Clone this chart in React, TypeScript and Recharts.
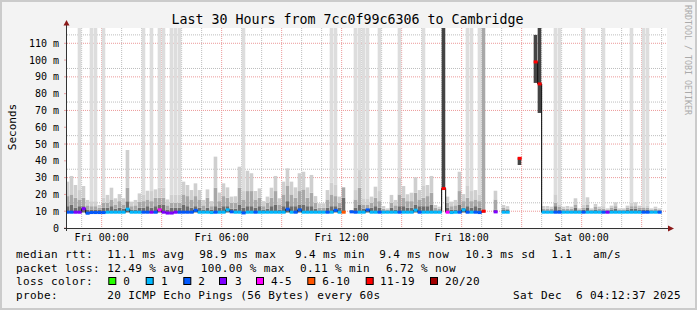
import React from 'react';
import {
  ComposedChart,
  Bar,
  Line,
  Scatter,
  XAxis,
  YAxis,
  CartesianGrid,
  Cell,
} from 'recharts';

// one column = 12 minutes, column 0 starts at Fri 00:00 (x values are hours from Fri 00:00)
const FIRST_COL = -9;
const STEP_H = 0.2;
const X_DOMAIN: [number, number] = [-1.7333, 28.2667];
const Y_MAX = 119.1;

// smoke: min ping, top of dark band, top of mid band, top of light band (ms)
const LO = [
  9.2, 9.2, 9.2, 9.2, 9.2, 9.2, 9.2, 9.2, 9.2,
  9.2, 9.2, 9.2, 9.2, 9.2, 9.2, 9.2, 9.2, 9.2, 9.2,
  9.2, 9.2, 9.2, 9.2, 9.2, 9.2, 9.2, 9.2, 9.2, 9.2,
  9.2, 9.2, 9.2, 9.2, 9.2, 9.2, 9.2, 9.2, 9.2, 9.2,
  9.2, 9.2, 9.2, 9.2, 9.2, 9.2, 9.2, 9.2, 9.2, 9.2,
  9.2, 9.2, 9.2, 9.2, 9.2, 9.2, 9.2, 9.2, 9.2, 9.2,
  9.2, 9.2, 9.2, 9.2, 9.2, 9.2, 9.2, 9.2, 9.2, 9.2,
  9.2, null, 9.2, 9.2, 9.2, 9.2, 9.2, 9.2, 9.2, 9.2,
  9.2, 9.2, 9.2, 9.2, 9.2, 9.2, 9.2, 9.2, 9.2, 9.2,
  9.2, 9.2, 9.2, 9.2, 9.2, 23.5, 9.2, 9.2, 9.2, 9.2,
  9.2, 9.2, 9.2, 9.2, 9.2, 9.2, null, null, 9.2, null,
  9.2, 9.2, null, null, 37.5, null, null, null, 86.4, 68.5,
  9.2, 9.2, 9.2, 9.2, 9.2, 9.2, 9.2, 9.2, 9.2, 9.2,
  9.2, 9.2, 9.2, 9.2, 9.2, 9.2, 9.2, 9.2, 9.2, 9.2,
  9.2, 9.2, 9.2, 9.2, 9.2, 9.2, 9.2, 9.2, 9.2, 9.2,
];

const DK = [
  13, 14, 12, 13, 13, 11, 11, 11, 11,
  12, 12, 13, 11.5, 12, 11.5, 16, 11, 11, 12,
  12, 13, 12, 13, 14, 14, 11, 12, 12, 12,
  14, 13, 12, 13, 12, 11, 12, 11, 13, 12,
  13, 13, 11.5, 11.5, 14, 12, 13, 13, 12, 13,
  11, 11.5, 13, 14, 11, 13, 16, 13, 13, 14,
  14, 13, 13, 11.5, 10.5, 10.5, 12, 13, 13, 12,
  18, null, 10.5, 12, 14, 11.5, 11.5, 12, 13, 12,
  10.5, 10.5, 12, 11, 13, 13, 12, 12, 14, 13,
  13, 13, 14, 10.5, 10.5, 125, 12, 11, 11, 14,
  12, 13, 12, 13, 12, 9.8, null, null, 11, null,
  11, 11, null, null, 42, null, null, null, 115, 125,
  10.5, 10.5, 10.5, 13, 11, 10.5, 10.5, 10.5, 12, 10.5,
  11, 12, 10.5, 11, 10.5, 10.5, 10.5, 11, 11.5, 10.5,
  10.5, 11, 11.5, 11.5, 11, 11, 11, 10.5, 10.5, 10.5,
];

const MID = [
  19, 20, 18, 17, 18, 13.5, 13, 13, 12,
  15, 15, 17, 14, 16, 14, 24, 13, 13.5, 15.5,
  16, 17, 16, 18, 18, 18, 13.5, 15, 15, 15,
  20, 19, 17, 19, 17, 13.5, 18, 13, 24, 16,
  19, 18, 15, 15, 24, 17, 22, 22, 17, 18,
  13, 15, 18, 22, 14, 20, 25, 20, 18, 22,
  23, 18, 21, 15, 12, 12, 17, 20, 19, 15,
  24.2, null, 10.7, 17, 24, 14, 14, 15, 18, 16,
  11.5, 11, 15, 13.5, 20, 18, 16, 16, 21, 17,
  18, 19, 21, 12, 11.5, 125, 15, 13, 13.5, 22,
  16, 18, 16, 17, 16, 125, null, null, 17, null,
  12, 11.5, null, null, 42, null, null, null, 115, 125,
  11.5, 11.5, 11.5, 15, 12.5, 11.5, 11.5, 11.5, 14, 11,
  12, 14, 11, 12.5, 11.5, 11.5, 11, 12, 13, 11,
  11, 12, 13, 13, 12, 12, 12, 11, 11.5, 11,
];

const HI = [
  27.6, 31, 25.6, 22.6, 25, 16.7, 16, 16, 13.7,
  18, 19.7, 24, 17.7, 20.2, 17.7, 46.5, 15.7, 16.7, 20.6,
  20, 22.2, 22, 23, 24, 24, 17, 20, 20, 20,
  27.6, 25.6, 22.6, 26.6, 22.6, 16.7, 23, 16, 42.5, 21.1,
  26.6, 24.2, 18.7, 18.9, 36.5, 22, 34.1, 32.6, 22, 23.6,
  16, 18.7, 24, 31, 17.7, 27.6, 35.5, 27.6, 24.2, 32.6,
  33.5, 24.2, 31.6, 19, 14.7, 14.7, 22.6, 27, 26, 18.7,
  24.2, null, 10.7, 22.6, 34.5, 17.7, 17.7, 18.7, 24.6, 22,
  13.1, 11.7, 19.7, 16.7, 30, 25, 20.1, 21, 30.2, 22.6,
  25, 25.6, 31, 13.7, 12.7, 125, 18.7, 15.7, 16.7, 33.5,
  20.2, 25, 22, 22.6, 20, 125, null, null, 22.2, null,
  13.7, 13, null, null, 42, null, null, null, 115, 125,
  13.1, 13.1, 12.7, 20.1, 14.1, 12.7, 13.1, 12.7, 17.7, 11.7,
  13.9, 18.3, 11.7, 14.3, 12.7, 13, 11.7, 13.3, 15.3, 11.7,
  11.7, 13.3, 15, 15.3, 13.3, 13, 13.5, 11.7, 12.7, 11.7,
];

// 1 = some pings went off the top of the graph
const TALL = [
  0, 0, 0, 1, 0, 0, 1, 1, 0,
  1, 0, 0, 0, 0, 0, 0, 0, 0, 0,
  1, 0, 1, 0, 1, 1, 0, 1, 1, 1,
  0, 0, 0, 0, 0, 0, 0, 0, 0, 0,
  0, 0, 0, 0, 0, 1, 0, 0, 0, 0,
  0, 0, 0, 0, 0, 0, 0, 0, 0, 0,
  0, 0, 0, 0, 0, 0, 0, 1, 1, 0,
  0, 0, 0, 1, 1, 1, 1, 0, 0, 1,
  0, 0, 0, 0, 1, 0, 0, 0, 0, 0,
  1, 0, 0, 0, 0, 0, 0, 0, 0, 0,
  0, 1, 1, 0, 1, 0, 0, 0, 0, 0,
  0, 0, 0, 0, 0, 0, 0, 0, 0, 0,
  0, 0, 0, 1, 1, 0, 0, 0, 0, 0,
  1, 0, 0, 0, 0, 1, 0, 0, 0, 0,
  0, 0, 1, 0, 0, 1, 1, 0, 0, 0,
];

const MED = [
  9.4, 9.4, 9.4, 9.4, 11.5, 8.8, 9.2, 9.2, 9.2,
  9.2, 9.4, 9.4, 9.4, 9.4, 9.4, 11.2, 9.4, 9.4, 9.4,
  9.4, 9.4, 9.4, 9.4, 10.8, 9.4, 8.9, 8.9, 9.4, 9.4,
  9.4, 9.4, 9.4, 10.5, 9.4, 9.4, 9.4, 9.2, 9.4, 9.4,
  9.4, 10.8, 9.6, 9.4, 9.4, 9.0, 9.4, 9.4, 9.4, 9.4,
  9.4, 9.4, 9.4, 9.4, 9.4, 9.4, 11.2, 9.4, 9.4, 10.8,
  9.4, 9.4, 9.4, 9.4, 9.4, 9.4, 9.4, 9.4, 10.5, 9.4,
  9.4, null, 9.6, 9.4, 9.4, 9.4, 10.8, 9.4, 9.4, 9.4,
  9.4, 9.4, 9.4, 9.4, 9.4, 9.4, 9.4, 9.4, 10.6, 9.4,
  9.4, 9.4, 9.4, 9.4, 9.4, 23.5, 9.4, 9.2, 9.4, 9.4,
  10.8, 9.4, 9.4, 9.4, 9.2, 10, null, null, 9.6, null,
  9.4, 9.4, null, null, 41.5, null, null, null, 98.9, 85.8,
  9.4, 9.4, 9.4, 9.4, 9.4, 9.4, 9.4, 9.4, 9.4, 9.4,
  9.4, 9.4, 9.4, 9.4, 9.4, 9.4, 9.4, 9.4, 9.4, 9.4,
  9.4, 9.4, 9.4, 9.4, 9.4, 9.4, 9.4, 9.4, 9.4, 9.4,
];

// index into LOSS_COLORS
const LOSS = [
  2, 2, 3, 3, 3, 2, 2, 2, 2,
  2, 1, 1, 1, 1, 1, 1, 1, 1, 1,
  2, 2, 3, 2, 4, 3, 3, 3, 3, 2,
  2, 2, 2, 2, 1, 1, 1, 1, 2, 1,
  1, 1, 2, 1, 1, 2, 1, 1, 2, 1,
  1, 1, 1, 1, 1, 1, 2, 1, 2, 2,
  1, 1, 1, 1, 1, 1, 2, 1, 2, 1,
  5, null, 2, 2, 1, 1, 2, 1, 1, 2,
  1, 1, 1, 1, 2, 1, 1, 1, 1, 2,
  1, 1, 1, 1, 1, 6, 4, 1, 1, 2,
  1, 2, 1, 2, 2, 6, null, null, 3, null,
  1, 1, null, null, 6, null, null, null, 6, 6,
  1, 1, 1, 2, 2, 1, 1, 1, 1, 1,
  2, 1, 1, 1, 1, 2, 3, 1, 1, 1,
  1, 1, 1, 1, 1, 2, 2, 1, 1, 2,
];

const LOSS_COLORS = ['#26ff00', '#00b8ff', '#0059ff', '#7e00ff', '#ff00ff', '#ff5500', '#ff0000', '#a10000'];
const LOSS_LABELS = ['0', '1', '2', '3', '4-5', '6-10', '11-19', '20/20'];
const LOSS_BOX_X = [108.3, 145.7, 183.3, 219, 256, 307.3, 365.7, 430];
const LOSS_LABEL_X = [123.3, 161, 198.3, 235, 271, 322.3, 380, 445];

const X_TICKS = [0, 6, 12, 18, 24];
const X_TICK_LABELS = ['Fri 00:00', 'Fri 06:00', 'Fri 12:00', 'Fri 18:00', 'Sat 00:00'];
const Y_TICKS = [0, 10, 20, 30, 40, 50, 60, 70, 80, 90, 100, 110];

const GRID_MAJOR_Y = [10, 20, 30, 40, 50, 60, 70, 80, 90, 100, 110];
const GRID_MINOR_Y = [5, 15, 25, 35, 45, 55, 65, 75, 85, 95, 105, 115];
const GRID_MAJOR_X = [0, 3, 6, 9, 12, 15, 18, 21, 24, 27];
const GRID_MINOR_X = [-1, 1, 2, 4, 5, 7, 8, 10, 11, 13, 14, 16, 17, 19, 20, 22, 23, 25, 26, 28];

const STATS_ROWS: [string, number][][] = [
  [['median rtt:', 16], ['11.1 ms avg', 107.3], ['98.9 ms max', 199.3], ['9.4 ms min', 295], ['9.4 ms now', 379.3], ['10.3 ms sd', 465.3], ['1.1', 551.3], ['am/s', 593]],
  [['packet loss:', 16], ['12.49 % avg', 107.3], ['100.00 % max', 200.7], ['0.11 % min', 300], ['6.72 % now', 386]],
];
const PROBE_ROW: [string, number][] = [['probe:', 16], ['20 ICMP Echo Pings (56 Bytes) every 60s', 107.3], ['Sat Dec  6 04:12:37 2025', 513]];

const TITLE = 'Last 30 Hours from 7cc0f99c6306 to Cambridge';
const MONO = '"DejaVu Sans Mono", monospace';

const chartData = HI.map((hi, p) => {
  const t = (FIRST_COL + p) * STEP_H + STEP_H / 2;
  if (hi == null) {
    return { t, lo: 0, base: 0, dark: 0, mid: 0, light: 0, tall: 0, med: null, loss: null };
  }
  const lo = LO[p] as number;
  const dk = DK[p] as number;
  const md = MID[p] as number;
  return {
    t,
    lo,
    base: lo,
    dark: dk - lo,
    mid: md - dk,
    light: hi - md,
    tall: TALL[p] ? 125 - hi : 0,
    med: MED[p],
    loss: LOSS[p],
  };
});

const medianPoints = chartData.filter(d => d.med != null);

const MedianMark = (props: any) => {
  const { cx, cy, payload } = props;
  if (cx == null || cy == null || payload == null || payload.loss == null) return null;
  return <rect x={cx - 2} y={cy - 1.5} width={4} height={3} fill={LOSS_COLORS[payload.loss]} />;
};

const tickStyle = { fontSize: 10, fontFamily: MONO, fill: '#000' };
const legendText = { fontSize: 11, fontFamily: MONO, letterSpacing: 0.38, fill: '#000', whiteSpace: 'pre' as const };

const App = () => {
  return (
    <div
      style={{
        position: 'absolute',
        left: 0,
        top: 0,
        width: 697,
        height: 310,
        background: '#f3f3f3',
        overflow: 'hidden',
      }}
    >
      <ComposedChart
        width={697}
        height={310}
        data={chartData}
        margin={{ top: 28, right: 30, bottom: 62, left: 0 }}
        barGap={0}
        barCategoryGap={0}
      >
        <CartesianGrid fill="#ffffff" horizontal={false} vertical={false} />
        <XAxis
          type="number"
          dataKey="t"
          domain={X_DOMAIN}
          allowDataOverflow
          ticks={X_TICKS}
          tickFormatter={(v: number) => X_TICK_LABELS[X_TICKS.indexOf(v)] ?? ''}
          tick={tickStyle}
          axisLine={false}
          tickLine={false}
          tickSize={0}
          tickMargin={6}
          height={20}
        />
        <YAxis
          type="number"
          domain={[0, Y_MAX]}
          allowDataOverflow
          ticks={Y_TICKS}
          tickFormatter={(v: number) => (v === 0 ? '0' : `${v} m`)}
          tick={tickStyle}
          axisLine={false}
          tickLine={{ stroke: '#e8a0a0' }}
          tickSize={3}
          tickMargin={5}
          width={67}
        />
        <Bar dataKey="base" stackId="s" fill="transparent" barSize={4} isAnimationActive={false} />
        <Bar dataKey="dark" stackId="s" fill="#6e6e6e" barSize={4} isAnimationActive={false}>
          {chartData.map((d, i) => (
            <Cell key={`dk-${i}`} fill={d.lo > 20 ? '#444444' : '#6e6e6e'} />
          ))}
        </Bar>
        <Bar dataKey="mid" stackId="s" fill="#a8a8a8" barSize={4} isAnimationActive={false} />
        <Bar dataKey="light" stackId="s" fill="#cfcfcf" barSize={4} isAnimationActive={false} />
        <Bar dataKey="tall" stackId="s" fill="#dddddd" barSize={4} isAnimationActive={false} />
        <CartesianGrid
          horizontalValues={GRID_MINOR_Y}
          verticalValues={GRID_MINOR_X}
          stroke="#bdbdbd"
          strokeDasharray="1 1"
        />
        <CartesianGrid
          horizontalValues={GRID_MAJOR_Y}
          verticalValues={GRID_MAJOR_X}
          stroke="#ec9a9a"
          strokeDasharray="1 1"
        />
        <Line
          type="step"
          dataKey="med"
          stroke="#000"
          strokeWidth={1}
          dot={false}
          connectNulls={false}
          isAnimationActive={false}
        />
        <Scatter data={medianPoints} dataKey="med" shape={MedianMark} isAnimationActive={false} />
      </ComposedChart>

      <svg
        width={697}
        height={310}
        style={{ position: 'absolute', left: 0, top: 0, pointerEvents: 'none' }}
      >
        <rect x={1} y={1} width={695} height={308} fill="none" stroke="#cbcbcb" strokeWidth={2} />
        <text x={347.5} y={24} textAnchor="middle" fontSize={13.3} fontFamily={MONO} fill="#000">
          {TITLE}
        </text>
        <text
          transform="translate(15.5,127) rotate(-90)"
          textAnchor="middle"
          fontSize={11}
          fontFamily={MONO}
          fill="#000"
        >
          Seconds
        </text>
        <text
          transform="translate(685,5) rotate(90)"
          fontSize={8.3}
          fontFamily={MONO}
          fill="#aaaaaa"
        >
          RRDTOOL / TOBI OETIKER
        </text>

        {/* axes with arrow heads */}
        <line x1={64} y1={228.5} x2={669} y2={228.5} stroke="#333" strokeWidth={1} />
        <line x1={66.5} y1={231} x2={66.5} y2={25} stroke="#333" strokeWidth={1} />
        <polygon points="668,225.5 674,228.5 668,231.5" fill="#8b1a1a" />
        <polygon points="63.5,25.5 66.5,20 69.5,25.5" fill="#8b1a1a" />

        {STATS_ROWS.map((row, r) =>
          row.map(([label, x], i) => (
            <text key={`s${r}-${i}`} x={x} y={257.5 + r * 14} style={legendText}>
              {label}
            </text>
          ))
        )}
        <text x={16} y={285.3} style={legendText}>
          loss color:
        </text>
        {LOSS_LABELS.map((label, i) => (
          <g key={`l${i}`}>
            <rect
              x={LOSS_BOX_X[i] + 0.5}
              y={277.5}
              width={7}
              height={7}
              fill={LOSS_COLORS[i]}
              stroke="#000"
              strokeWidth={1}
            />
            <text x={LOSS_LABEL_X[i]} y={285.3} style={legendText}>
              {label}
            </text>
          </g>
        ))}
        {PROBE_ROW.map(([label, x], i) => (
          <text key={`p${i}`} x={x} y={299.3} style={legendText}>
            {label}
          </text>
        ))}
      </svg>
    </div>
  );
};

export default App;
